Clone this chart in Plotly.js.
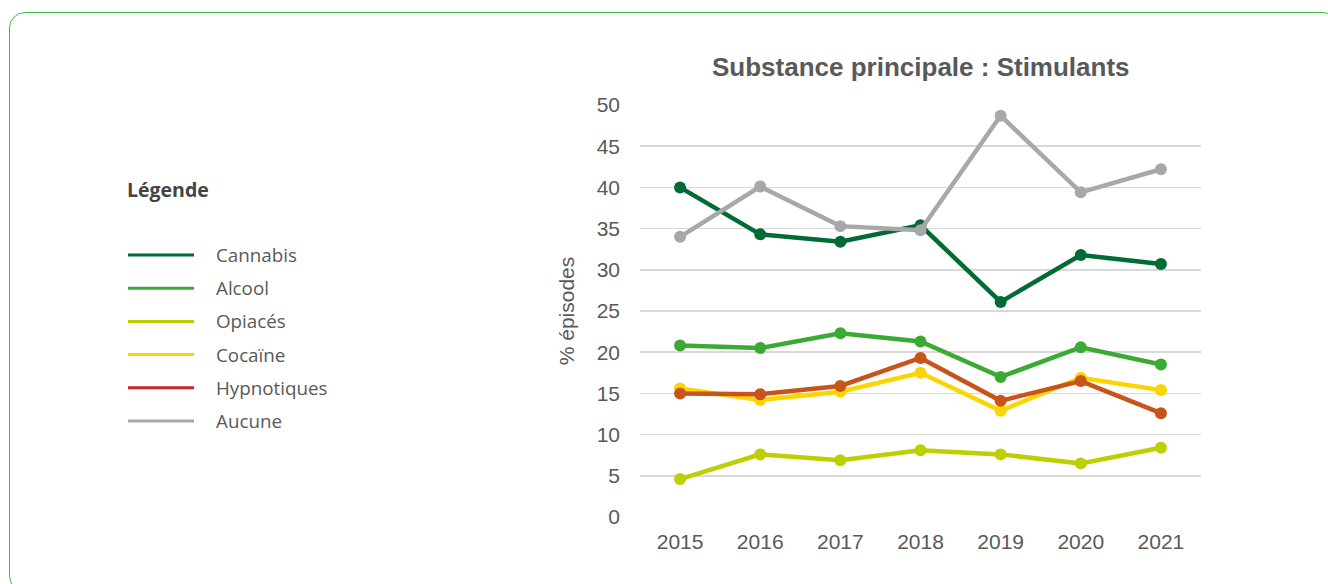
<!DOCTYPE html>
<html>
<head>
<meta charset="utf-8">
<script src="https://cdn.plot.ly/plotly-3.0.1.min.js"></script>
<style>
html,body{margin:0;padding:0;background:#fff;}
#wrap{position:relative;width:1328px;height:584px;overflow:hidden;}
#chart{position:absolute;left:0;top:0;width:1328px;height:584px;}
#frame{position:absolute;left:9px;top:12px;width:1330px;height:580px;border:1.5px solid #3dbd48;border-radius:16px;box-sizing:border-box;pointer-events:none;}
</style>
</head>
<body>
<div id="wrap"><div id="chart"></div><div id="frame"></div></div>
<script>
const years = [2015, 2016, 2017, 2018, 2019, 2020, 2021];
const seriesNames = ["Cannabis", "Alcool", "Opiacés", "Cocaïne", "Hypnotiques", "Aucune"];
const cannabis    = [40.0, 34.3, 33.4, 35.4, 26.1, 31.8, 30.7];
const alcool      = [20.8, 20.5, 22.3, 21.3, 17.0, 20.6, 18.5];
const opiaces     = [4.6, 7.6, 6.9, 8.1, 7.6, 6.5, 8.4];
const cocaine     = [15.6, 14.2, 15.2, 17.5, 12.9, 16.9, 15.4];
const hypnotiques = [15.0, 14.9, 15.9, 19.3, 14.1, 16.5, 12.6];
const aucune      = [34.0, 40.1, 35.3, 34.8, 48.7, 39.4, 42.2];
const lineColors   = ["#006b33", "#3aaa35", "#bccf00", "#fcd500", "#c8531b", "#a8a8a8"];
const legendColors = ["#006b33", "#3aaa35", "#bccf00", "#fcd500", "#c9262d", "#a8a8a8"];
const values = [cannabis, alcool, opiaces, cocaine, hypnotiques, aucune];
const chartTitle = "Substance principale : Stimulants";

// draw order: Cannabis under Aucune, Cocaine under Hypnotiques
const order = [1, 2, 3, 4, 0, 5];
const traces = order.map(i => ({
  x: years, y: values[i], name: seriesNames[i], type: 'scatter', mode: 'lines+markers',
  line: {color: lineColors[i], width: 4.5},
  marker: {color: lineColors[i], size: 12},
  showlegend: false, hoverinfo: 'skip'
}));

// plot area in pixels
const L = 640, R = 1201, T = 105, B = 517;
const px = x => (x - L) / (R - L);
const py = y => (B - y) / (B - T);

const shapes = [];
const annotations = [];
annotations.push({xref:'paper', yref:'paper', x: px(920.5), y: py(67), xanchor:'center', yanchor:'middle',
  text:'<b>' + chartTitle + '</b>', showarrow:false,
  font:{family:'Liberation Sans, Arial, sans-serif', size:26, color:'#595959'}});
annotations.push({xref:'paper', yref:'paper', x: px(125), y: py(189), xanchor:'left', yanchor:'middle',
  text:'<b>Légende</b>', showarrow:false, font:{family:'Open Sans, sans-serif', size:19.5, color:'#444444'}});
seriesNames.forEach((n, i) => {
  const yy = 255 + i * 33.2;
  shapes.push({type:'line', xref:'paper', yref:'paper', x0: px(128), x1: px(194), y0: py(yy), y1: py(yy),
    line:{color: legendColors[i], width: 3}});
  annotations.push({xref:'paper', yref:'paper', x: px(214), y: py(yy), xanchor:'left', yanchor:'middle',
    text: n, showarrow:false, font:{family:'Open Sans, sans-serif', size:18.8, color:'#595959'}});
});

const layout = {
  width: 1328, height: 584,
  margin: {l: L, r: 1328 - R, t: T, b: 584 - B},
  paper_bgcolor: '#ffffff', plot_bgcolor: '#ffffff',
  xaxis: {range: [2014.5, 2021.5], tickvals: years, ticktext: years.map(String), showgrid: false,
    zeroline: false, showline: false, ticks: '', ticklabelstandoff: 10,
    tickfont: {family: 'Liberation Sans, Arial, sans-serif', size: 21, color: '#595959'}},
  yaxis: {range: [0, 50], dtick: 5, tick0: 0, showgrid: true, gridcolor: '#d9d9d9', gridwidth: 1.5,
    zeroline: false, showline: false, ticks: '', ticklabelstandoff: 19,
    tickfont: {family: 'Liberation Sans, Arial, sans-serif', size: 21, color: '#595959'},
    title: {text: '% épisodes', standoff: 16, font: {family: 'Liberation Sans, Arial, sans-serif', size: 21, color: '#595959'}}},
  shapes: shapes,
  annotations: annotations,
  showlegend: false
};

Plotly.newPlot('chart', traces, layout, {displayModeBar: false, staticPlot: true});
</script>
</body>
</html>
